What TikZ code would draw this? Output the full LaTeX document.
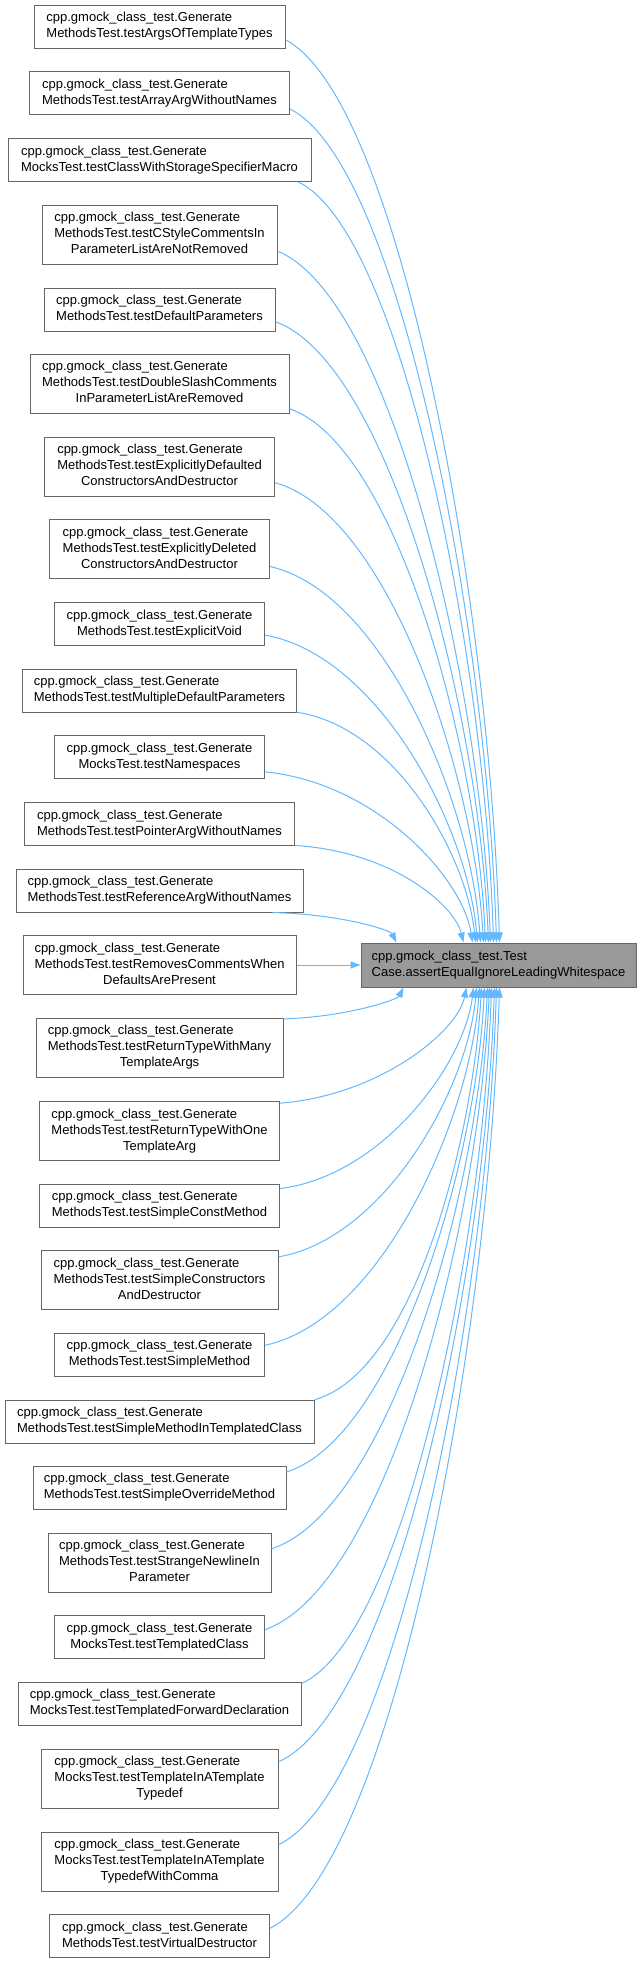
\documentclass[tikz,border=0pt]{standalone}
\usepackage{fontspec}
\setmainfont{Liberation Sans}
\usepackage{tikz}
\usetikzlibrary{arrows.meta}
\definecolor{calledge}{RGB}{99,184,255}
\definecolor{boxedge}{RGB}{102,102,102}
\definecolor{focusfill}{RGB}{153,153,153}
\newcommand{\lbltwo}[2]{\begin{tabular}{@{}l@{}}#1\\\multicolumn{1}{@{}c@{}}{#2}\end{tabular}}
\newcommand{\lblthree}[3]{\begin{tabular}{@{}l@{}}#1\\#2\\\multicolumn{1}{@{}c@{}}{#3}\end{tabular}}
\newcommand{\gentest}{cpp.gmock\_class\_test.Generate}
\tikzset{
  callerbox/.style={draw=boxedge,fill=white,line width=1pt,inner xsep=2pt,inner ysep=0pt,
    minimum height=43pt,font=\fontsize{13}{16}\selectfont},
  tallbox/.style={callerbox,minimum height=59pt},
  focusbox/.style={callerbox,fill=focusfill,minimum height=44pt},
  callarrow/.style={draw=calledge,line width=1pt,-{Triangle[length=10pt,width=7pt]}}
}

\begin{document}
\begin{tikzpicture}[x=1pt,y=-1pt]
\useasboundingbox (0,0) rectangle (640,1963);
\node[focusbox,minimum width=275pt] (assertEqual) at (498.5,965) {\lbltwo{cpp.gmock\_class\_test.Test}{Case.assertEqualIgnoreLeadingWhitespace}};
\node[callerbox,minimum width=251pt] (argsTmpl) at (159.5,26.5) {\lbltwo{\gentest}{MethodsTest.testArgsOfTemplateTypes}};
\node[callerbox,minimum width=260pt] (arrayArg) at (159.5,93) {\lbltwo{\gentest}{MethodsTest.testArrayArgWithoutNames}};
\node[callerbox,minimum width=303pt] (storageMacro) at (159.5,160) {\lbltwo{\gentest}{MocksTest.testClassWithStorageSpecifierMacro}};
\node[tallbox,minimum width=235pt] (cStyleComments) at (159.5,234.5) {\lblthree{\gentest}{MethodsTest.testCStyleCommentsIn}{ParameterListAreNotRemoved}};
\node[callerbox,minimum width=231pt] (defaultParams) at (159.5,309.5) {\lbltwo{\gentest}{MethodsTest.testDefaultParameters}};
\node[tallbox,minimum width=259pt] (doubleSlash) at (159.5,383.5) {\lblthree{\gentest}{MethodsTest.testDoubleSlashComments}{InParameterListAreRemoved}};
\node[tallbox,minimum width=230pt] (explDefaulted) at (159.5,466.5) {\lblthree{\gentest}{MethodsTest.testExplicitlyDefaulted}{ConstructorsAndDestructor}};
\node[tallbox,minimum width=220pt] (explDeleted) at (159.5,549) {\lblthree{\gentest}{MethodsTest.testExplicitlyDeleted}{ConstructorsAndDestructor}};
\node[callerbox,minimum width=210pt] (explVoid) at (159.5,624) {\lbltwo{\gentest}{MethodsTest.testExplicitVoid}};
\node[callerbox,minimum width=274pt] (multiDefault) at (159.5,690.5) {\lbltwo{\gentest}{MethodsTest.testMultipleDefaultParameters}};
\node[callerbox,minimum width=210pt] (namespaces) at (159.5,757) {\lbltwo{\gentest}{MocksTest.testNamespaces}};
\node[callerbox,minimum width=270pt] (pointerArg) at (159.5,824) {\lbltwo{\gentest}{MethodsTest.testPointerArgWithoutNames}};
\node[callerbox,minimum width=287pt] (referenceArg) at (159.5,890.5) {\lbltwo{\gentest}{MethodsTest.testReferenceArgWithoutNames}};
\node[tallbox,minimum width=273pt] (removesComments) at (159.5,965) {\lblthree{\gentest}{MethodsTest.testRemovesCommentsWhen}{DefaultsArePresent}};
\node[tallbox,minimum width=247pt] (retManyArgs) at (159.5,1047.5) {\lblthree{\gentest}{MethodsTest.testReturnTypeWithMany}{TemplateArgs}};
\node[tallbox,minimum width=240pt] (retOneArg) at (159.5,1131) {\lblthree{\gentest}{MethodsTest.testReturnTypeWithOne}{TemplateArg}};
\node[callerbox,minimum width=240pt] (simpleConst) at (159.5,1205.5) {\lbltwo{\gentest}{MethodsTest.testSimpleConstMethod}};
\node[tallbox,minimum width=237pt] (simpleCtors) at (159.5,1280) {\lblthree{\gentest}{MethodsTest.testSimpleConstructors}{AndDestructor}};
\node[callerbox,minimum width=210pt] (simpleMethod) at (159.5,1354.5) {\lbltwo{\gentest}{MethodsTest.testSimpleMethod}};
\node[callerbox,minimum width=309pt] (simpleTmplClass) at (159.5,1421.5) {\lbltwo{\gentest}{MethodsTest.testSimpleMethodInTemplatedClass}};
\node[callerbox,minimum width=253pt] (simpleOverride) at (159.5,1487.5) {\lbltwo{\gentest}{MethodsTest.testSimpleOverrideMethod}};
\node[tallbox,minimum width=223pt] (strangeNewline) at (159.5,1562.5) {\lblthree{\gentest}{MethodsTest.testStrangeNewlineIn}{Parameter}};
\node[callerbox,minimum width=210pt] (tmplClass) at (159.5,1637) {\lbltwo{\gentest}{MocksTest.testTemplatedClass}};
\node[callerbox,minimum width=283pt] (tmplFwdDecl) at (159.5,1703.5) {\lbltwo{\gentest}{MocksTest.testTemplatedForwardDeclaration}};
\node[tallbox,minimum width=237pt] (tmplTypedef) at (159.5,1778.5) {\lblthree{\gentest}{MocksTest.testTemplateInATemplate}{Typedef}};
\node[tallbox,minimum width=237pt] (tmplTypedefComma) at (159.5,1861.5) {\lblthree{\gentest}{MocksTest.testTemplateInATemplate}{TypedefWithComma}};
\node[callerbox,minimum width=220pt] (virtualDtor) at (159.5,1936) {\lbltwo{\gentest}{MethodsTest.testVirtualDestructor}};
\draw[callarrow] (argsTmpl.-6) .. controls +(114,60) and +(-10,-343) .. ([xshift=139pt]assertEqual.north west);
\draw[callarrow] (arrayArg.-7) .. controls +(110,55) and +(-10,-317) .. ([xshift=136pt]assertEqual.north west);
\draw[callarrow] (storageMacro.-9) .. controls +(103,50) and +(-9,-289) .. ([xshift=133pt]assertEqual.north west);
\draw[callarrow] (cStyleComments.-8.5) .. controls +(113,46) and +(-10,-263) .. ([xshift=130pt]assertEqual.north west);
\draw[callarrow] (defaultParams.-6.2) .. controls +(113,41) and +(-10,-236) .. ([xshift=128pt]assertEqual.north west);
\draw[callarrow] (doubleSlash.-11) .. controls +(104,35) and +(-9,-203) .. ([xshift=125pt]assertEqual.north west);
\draw[callarrow] (explDefaulted.-8.7) .. controls +(111,30) and +(-10,-174) .. ([xshift=123pt]assertEqual.north west);
\draw[callarrow] (explDeleted.-9.3) .. controls +(112,25) and +(-10,-143) .. ([xshift=120pt]assertEqual.north west);
\draw[callarrow] (explVoid.-6) .. controls +(113,20) and +(-10,-117) .. ([xshift=117pt]assertEqual.north west);
\draw[callarrow] (multiDefault.-9.2) .. controls +(98,15) and +(-9,-88) .. ([xshift=115pt]assertEqual.north west);
\draw[callarrow] (namespaces.-8.1) .. controls +(111,11) and +(-10,-65) .. ([xshift=112pt]assertEqual.north west);
\draw[callarrow] (pointerArg.-9.8) .. controls +(98,6) and +(-9,-37) .. ([xshift=103pt]assertEqual.north west);
\draw[callarrow] (referenceArg.-11.8) .. controls +(72,2) and +(-6,-12) .. ([xshift=36pt]assertEqual.north west);
\draw[callarrow] (removesComments) -- (assertEqual);
\draw[callarrow] (retManyArgs.13.4) .. controls +(64,-2) and +(-6,12) .. ([xshift=43pt]assertEqual.south west);
\draw[callarrow] (retOneArg.13.6) .. controls +(100,-8) and +(-9,44) .. ([xshift=106pt]assertEqual.south west);
\draw[callarrow] (simpleConst.8.8) .. controls +(103,-13) and +(-9,76) .. ([xshift=113pt]assertEqual.south west);
\draw[callarrow] (simpleCtors.11) .. controls +(105,-18) and +(-9,103) .. ([xshift=116pt]assertEqual.south west);
\draw[callarrow] (simpleMethod.5.7) .. controls +(114,-24) and +(-10,136) .. ([xshift=119pt]assertEqual.south west);
\draw[callarrow] (simpleTmplClass.8.9) .. controls +(98,-27) and +(-9,157) .. ([xshift=121pt]assertEqual.south west);
\draw[callarrow] (simpleOverride.7) .. controls +(105,-32) and +(-9,184) .. ([xshift=124pt]assertEqual.south west);
\draw[callarrow] (strangeNewline.7.4) .. controls +(115,-37) and +(-10,213) .. ([xshift=127pt]assertEqual.south west);
\draw[callarrow] (tmplClass.4.4) .. controls +(120,-42) and +(-11,244) .. ([xshift=129pt]assertEqual.south west);
\draw[callarrow] (tmplFwdDecl.8.7) .. controls +(102,-46) and +(-9,264) .. ([xshift=131pt]assertEqual.south west);
\draw[callarrow] (tmplTypedef.8.4) .. controls +(115,-51) and +(-10,294) .. ([xshift=134pt]assertEqual.south west);
\draw[callarrow] (tmplTypedefComma.8.9) .. controls +(116,-56) and +(-10,325) .. ([xshift=136pt]assertEqual.south west);
\draw[callarrow] (virtualDtor.4.2) .. controls +(122,-62) and +(-11,358) .. ([xshift=139pt]assertEqual.south west);
\end{tikzpicture}
\end{document}
